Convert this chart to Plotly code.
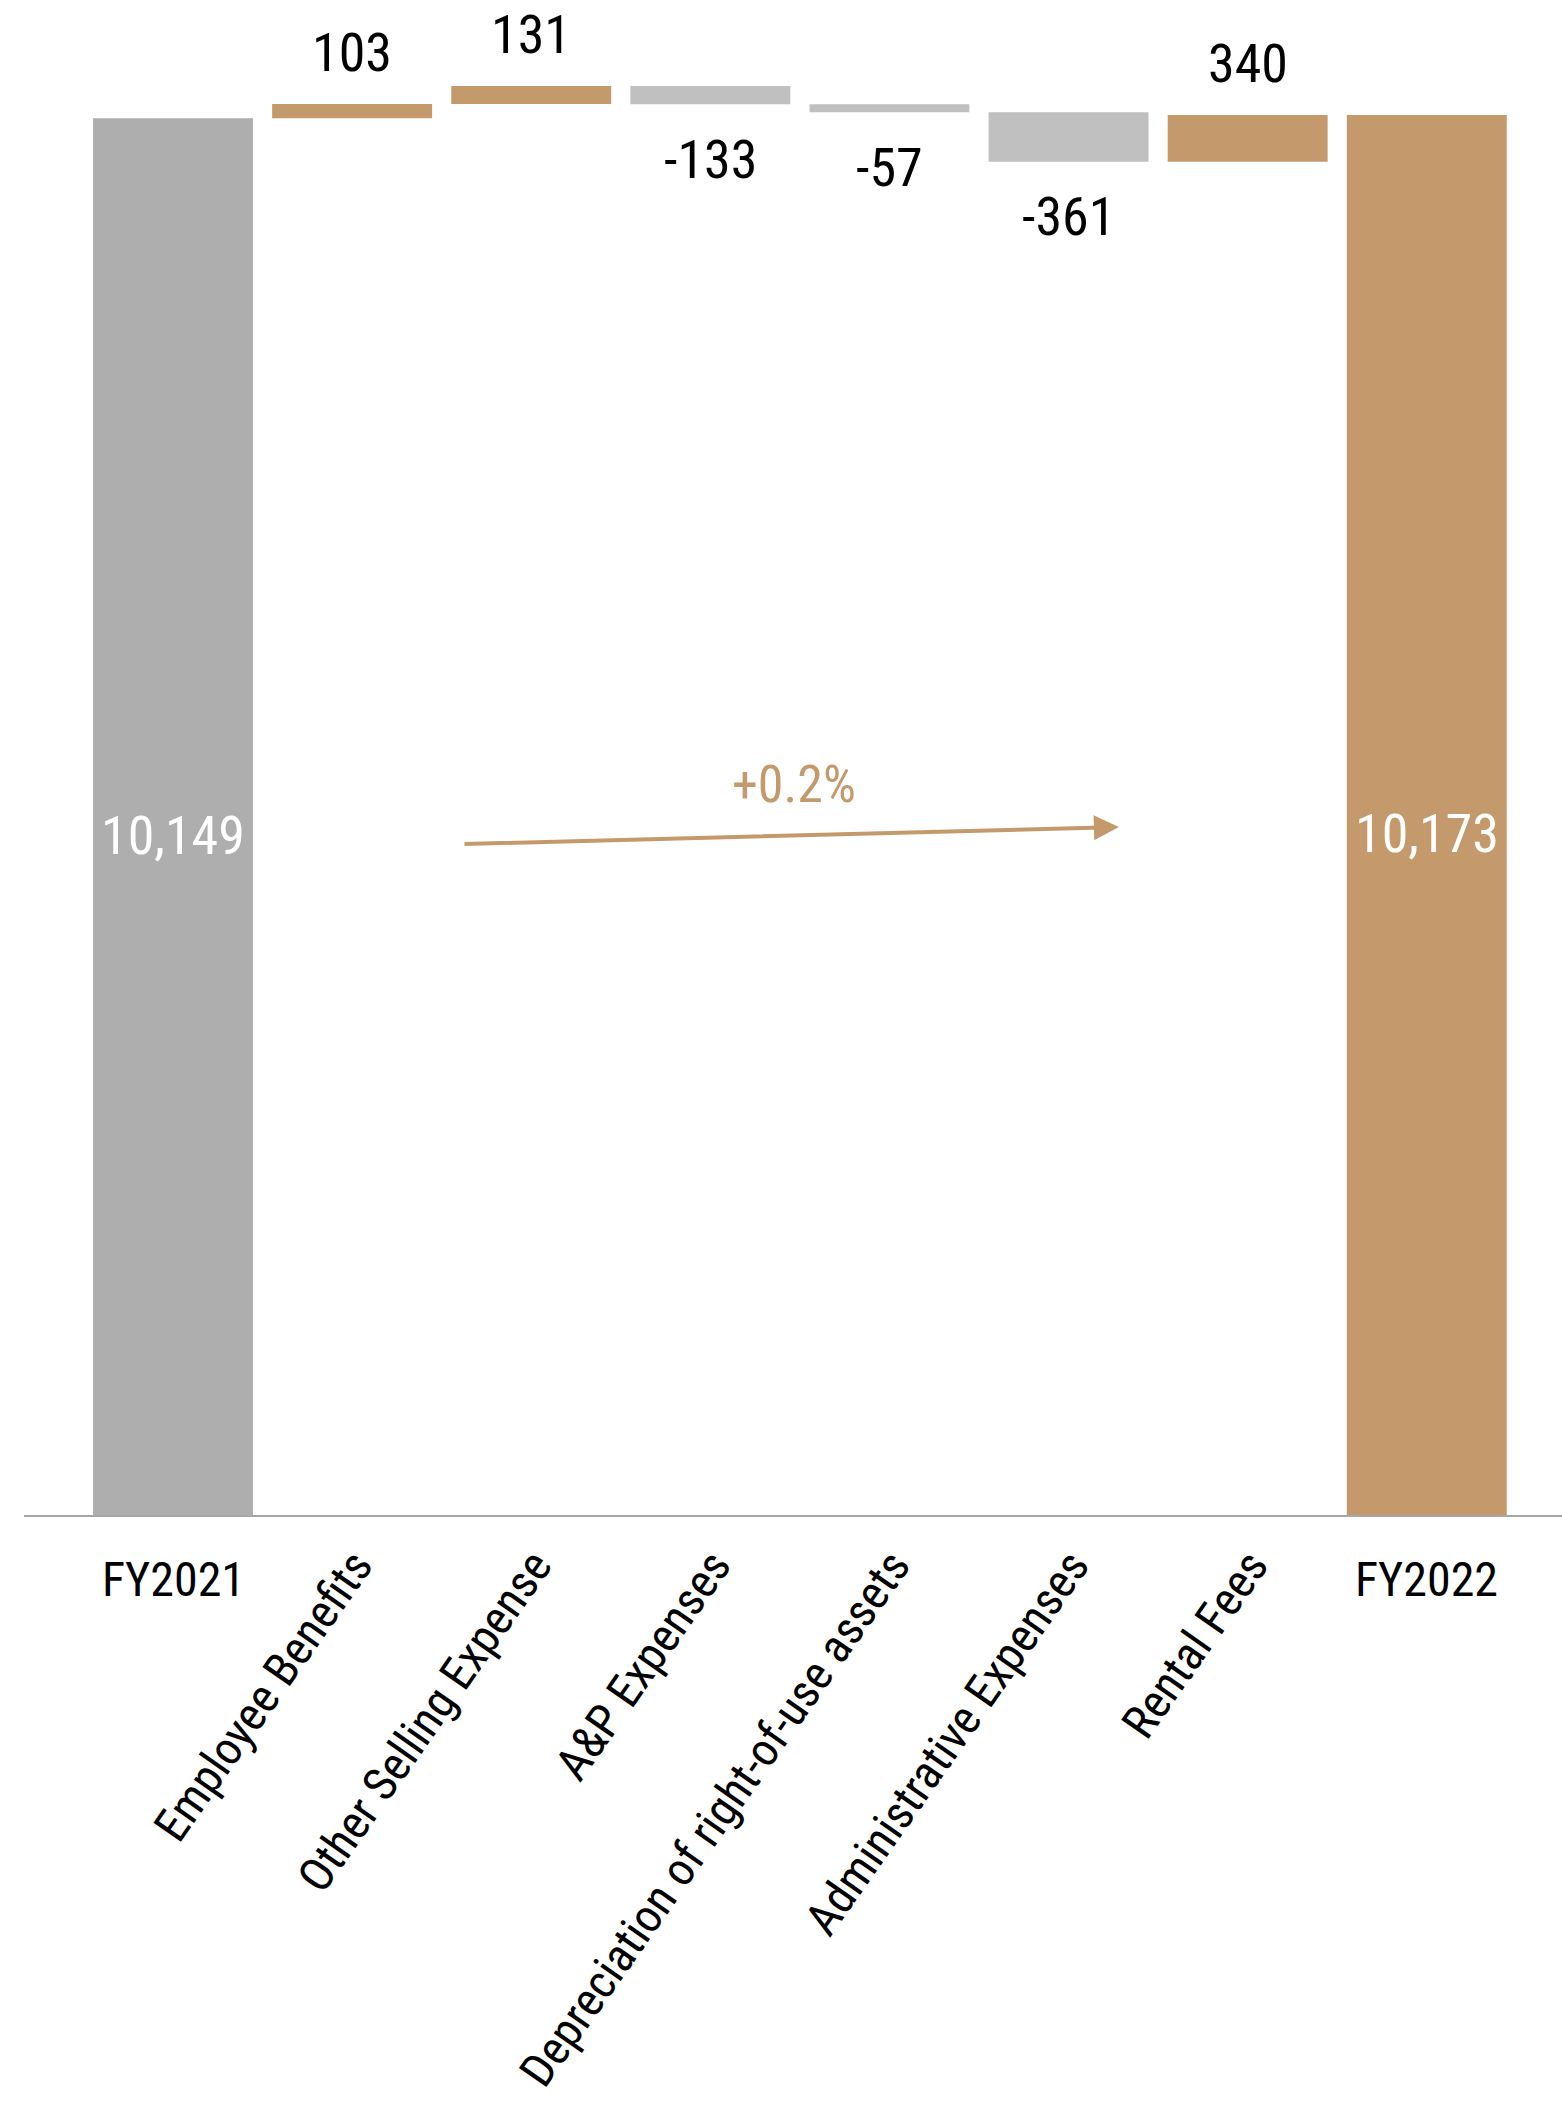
import plotly.graph_objects as go

# ---- data ----
categories = ["FY2021", "Employee Benefits", "Other Selling Expense", "A&P Expenses",
              "Depreciation of right-of-use assets", "Administrative Expenses",
              "Rental Fees", "FY2022"]
start_value = 10149
changes = [103, 131, -133, -57, -361, 340]
end_value = 10173

# ---- styling ----
FONT = "Roboto Condensed, Liberation Sans Narrow, Arial Narrow, Roboto, sans-serif"
TAN = "#C49A6C"
GREY_TOTAL = "#AEAEAE"
GREY_DEC = "#C0C0C0"

# build waterfall geometry from the values
bases, heights, colors = [], [], []
bases.append(0); heights.append(start_value); colors.append(GREY_TOTAL)
running = start_value
for c in changes:
    if c >= 0:
        bases.append(running); heights.append(c); colors.append(TAN)
    else:
        bases.append(running + c); heights.append(-c); colors.append(GREY_DEC)
    running += c
bases.append(0); heights.append(end_value); colors.append(TAN)

x_idx = list(range(len(categories)))

fig = go.Figure()
fig.add_trace(go.Bar(
    x=x_idx, y=heights, base=bases,
    marker=dict(color=colors, line=dict(width=0)),
    hoverinfo="skip", showlegend=False,
))

annotations = []
# value labels for changes
running = start_value
for i, c in enumerate(changes, start=1):
    if c >= 0:
        top = running + c
        annotations.append(dict(x=i, y=top, xref="x", yref="y", text=f"{c:,}",
                                showarrow=False, yanchor="middle", yshift=52,
                                font=dict(family=FONT, size=54, color="#000000")))
    else:
        bottom = running + c
        annotations.append(dict(x=i, y=bottom, xref="x", yref="y", text=f"{c:,}",
                                showarrow=False, yanchor="middle", yshift=-55,
                                font=dict(family=FONT, size=54, color="#000000")))
    running += c

# totals inside bars
for i, v in [(0, start_value), (len(categories) - 1, end_value)]:
    annotations.append(dict(x=i, y=v / 2, xref="x", yref="y", text=f"{v:,}",
                            showarrow=False, yanchor="middle", yshift=-19,
                            font=dict(family=FONT, size=54, color="#FFFFFF")))

# FY tick labels (horizontal)
for i in (0, len(categories) - 1):
    annotations.append(dict(x=i, y=0, xref="x", yref="y", text=categories[i],
                            showarrow=False, yanchor="middle", yshift=-64,
                            font=dict(family=FONT, size=48, color="#000000")))

# growth arrow and label
pct = (end_value - start_value) / start_value * 100
annotations.append(dict(x=5.281, y=4999, xref="x", yref="y",
                        ax=1.619, ay=4875, axref="x", ayref="y",
                        text="", showarrow=True, arrowhead=2, arrowsize=1.25,
                        arrowwidth=4, arrowcolor=TAN, standoff=0))
annotations.append(dict(x=3.467, y=5310, xref="x", yref="y", text=f"+{pct:.1f}%",
                        showarrow=False, yanchor="middle",
                        font=dict(family=FONT, size=52, color=TAN)))

ticktext = ["" if i in (0, len(categories) - 1) else c for i, c in enumerate(categories)]

fig.update_layout(
    width=1562, height=2103,
    margin=dict(l=24, r=0, t=0, b=588),
    paper_bgcolor="white", plot_bgcolor="white",
    bargap=0.107,
    annotations=annotations,
    font=dict(family=FONT, size=48, color="#000000"),
    xaxis=dict(range=[-0.832, 7.755], tickmode="array", tickvals=x_idx, ticktext=ticktext,
               tickangle=-55, showgrid=False, zeroline=False, showline=True,
               linecolor="#A6A6A6", linewidth=2, ticks="", automargin=False,
               tickfont=dict(family=FONT, size=47, color="#000000"),
               ticklabelshift=3, ticklabelstandoff=2),
    yaxis=dict(range=[0, 11008], visible=False, showgrid=False, zeroline=False,
               automargin=False),
)

fig.write_html("out.html")
